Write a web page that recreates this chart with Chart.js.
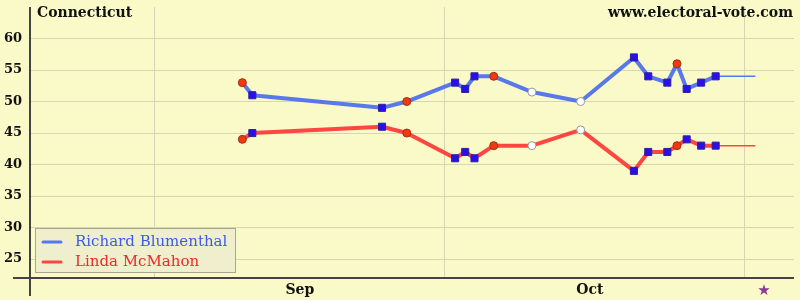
<!DOCTYPE html>
<html>
<head>
<meta charset="utf-8">
<script src="https://cdn.jsdelivr.net/npm/chart.js@4"></script>
<style>
  body { margin: 0; background: #fafac8; }
  #wrap { width: 800px; height: 300px; position: relative; }
</style>
</head>
<body>
<div id="wrap"><canvas id="chart"></canvas></div>
<script>
// days counted from Sep 1 (day 0)
const pollDays = [9.06, 10.09, 23.5, 26.06, 31.06, 32.1, 33.06, 35.05, 39.0, 44.04, 49.55, 51.03, 53.0, 54.0, 55.0, 56.5, 58.0];
const blumenthal = [53, 51, 49, 50, 53, 52, 54, 54, 51.5, 50, 57, 54, 53, 56, 52, 53, 54];
const mcmahon = [44, 45, 46, 45, 41, 42, 41, 43, 43, 45.5, 39, 42, 42, 43, 44, 43, 43];
// r = red circle, s = blue square, w = white circle
const pollKind = ['r', 's', 's', 'r', 's', 's', 's', 'r', 'w', 'w', 's', 's', 's', 'r', 's', 's', 's'];
const electionDay = 62.1;

const yTicks = [25, 30, 35, 40, 45, 50, 55, 60];
const xGridDays = [0, 30, 61];
const xLabels = { 15: 'Sep', 45: 'Oct', 63: '\u2605' };

const BG = '#fafac8';
const GRID = '#d6d6b4';
const BLUE = 'rgba(70,105,238,0.9)';
const RED = 'rgba(255,50,50,0.9)';

function pts(vals) {
    return pollDays.map((d, i) => ({x: d, y: vals[i]}));
}
function tail(vals) {
    const last = vals[vals.length - 1];
    return [{x: pollDays[pollDays.length - 1], y: last}, {x: electionDay, y: last}];
}
const markStyle = pollKind.map(k => k === 's' ? 'rect' : 'circle');
const markFill = pollKind.map(k => k === 's' ? '#2a10e8' : k === 'r' ? '#ee3a10' : '#ffffff');
const markEdge = pollKind.map(k => k === 's' ? '#3020a0' : k === 'r' ? '#a03010' : '#999999');
const markSize = pollKind.map(k => k === 's' ? 5 : 4);

function series(label, vals, color) {
    return {
        label: label,
        data: pts(vals),
        borderColor: color,
        borderWidth: 4,
        borderJoinStyle: 'round',
        tension: 0,
        pointStyle: markStyle,
        pointBackgroundColor: markFill,
        pointBorderColor: markEdge,
        pointBorderWidth: 1,
        pointRadius: markSize,
        order: 1
    };
}
function tailSeries(vals, color) {
    return {
        label: '',
        data: tail(vals),
        borderColor: color,
        borderWidth: 1.5,
        pointRadius: 0,
        order: 2
    };
}

const decor = {
    id: 'decor',
    beforeDraw(chart) {
        const c = chart.ctx;
        c.save();
        c.fillStyle = BG;
        c.fillRect(0, 0, chart.width, chart.height);
        c.restore();
    },
    afterDraw(chart) {
        const c = chart.ctx;
        const a = chart.chartArea;
        c.save();
        // axis lines
        c.strokeStyle = '#444444';
        c.lineWidth = 2;
        c.beginPath();
        c.moveTo(a.left, a.top);
        c.lineTo(a.left, 296);
        c.moveTo(13, a.bottom);
        c.lineTo(a.right, a.bottom);
        c.stroke();
        // titles
        c.fillStyle = '#111111';
        c.font = 'bold 14px "DejaVu Serif"';
        c.textBaseline = 'alphabetic';
        c.textAlign = 'left';
        c.fillText('Connecticut', 37, 17);
        c.textAlign = 'right';
        c.fillText('www.electoral-vote.com', 793, 17);
        // legend
        const named = chart.data.datasets.filter(d => d.label);
        c.fillStyle = '#efefce';
        c.strokeStyle = '#a8a890';
        c.lineWidth = 1;
        c.fillRect(35.5, 228.5, 200, 44);
        c.strokeRect(35.5, 228.5, 200, 44);
        c.font = '15px "DejaVu Serif"';
        c.textAlign = 'left';
        c.textBaseline = 'middle';
        named.forEach((d, i) => {
            const y = 242 + i * 20;
            c.strokeStyle = d.borderColor;
            c.lineWidth = 3;
            c.lineCap = 'round';
            c.beginPath();
            c.moveTo(43, y);
            c.lineTo(61, y);
            c.stroke();
            c.fillStyle = i === 0 ? '#3c5ae6' : '#ee2828';
            c.fillText(d.label, 75, y);
        });
        c.restore();
    }
};

new Chart(document.getElementById('chart'), {
    type: 'line',
    data: {
        datasets: [
            series('Richard Blumenthal', blumenthal, BLUE),
            series('Linda McMahon', mcmahon, RED),
            tailSeries(blumenthal, BLUE),
            tailSeries(mcmahon, RED)
        ]
    },
    options: {
        responsive: true,
        maintainAspectRatio: false,
        animation: false,
        layout: { padding: { top: 7, right: 5, left: 0, bottom: 0 } },
        scales: {
            x: {
                type: 'linear',
                min: -12.9,
                max: 66.1,
                afterBuildTicks: (s) => {
                    s.ticks = xGridDays.concat([15, 45, 63]).map(v => ({value: v}));
                },
                afterFit: (s) => {
                    s.height = 22;
                    s.paddingLeft = 0;
                    s.paddingRight = 0;
                },
                border: { display: false },
                grid: {
                    drawTicks: false,
                    color: (ctx) => ctx.tick && xGridDays.includes(ctx.tick.value) ? GRID : 'rgba(0,0,0,0)'
                },
                ticks: {
                    autoSkip: false,
                    maxRotation: 0,
                    padding: 4,
                    callback: (v) => xLabels[v] || '',
                    color: (ctx) => ctx.tick && ctx.tick.value === 63 ? '#8a3c96' : '#111111',
                    font: (ctx) => ctx.tick && ctx.tick.value === 63
                        ? { family: '"DejaVu Sans"', size: 15 }
                        : { family: '"DejaVu Serif"', size: 14, weight: 'bold' }
                }
            },
            y: {
                min: 22,
                max: 65,
                afterBuildTicks: (s) => { s.ticks = yTicks.map(v => ({value: v})); },
                afterFit: (s) => {
                    s.width = 30;
                    s.paddingTop = 0;
                    s.paddingBottom = 0;
                },
                border: { display: false },
                grid: { drawTicks: false, color: GRID },
                ticks: {
                    padding: 8,
                    color: '#111111',
                    font: { family: '"DejaVu Serif"', size: 13, weight: 'bold' }
                }
            }
        },
        plugins: {
            legend: { display: false },
            tooltip: { enabled: false }
        }
    },
    plugins: [decor]
});
</script>
</body>
</html>
